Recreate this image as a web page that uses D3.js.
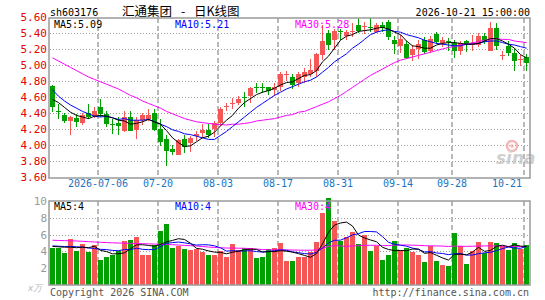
<!DOCTYPE html>
<html><head><meta charset="utf-8">
<script src="https://cdn.jsdelivr.net/npm/d3@7/dist/d3.min.js"></script>
<style>body{margin:0;background:#fff}svg{display:block}</style>
</head><body><svg id="c" width="545" height="300"></svg>
<script>
const dates = ["2026-06-24","2026-06-25","2026-06-26","2026-06-29","2026-06-30","2026-07-01","2026-07-02","2026-07-03",
"2026-07-06","2026-07-07","2026-07-08","2026-07-09","2026-07-10","2026-07-13","2026-07-14","2026-07-15","2026-07-16","2026-07-17",
"2026-07-20","2026-07-21","2026-07-22","2026-07-23","2026-07-24","2026-07-27","2026-07-28","2026-07-29","2026-07-30","2026-07-31",
"2026-08-03","2026-08-04","2026-08-05","2026-08-06","2026-08-07","2026-08-10","2026-08-11","2026-08-12","2026-08-13","2026-08-14",
"2026-08-17","2026-08-18","2026-08-19","2026-08-20","2026-08-21","2026-08-24","2026-08-25","2026-08-26","2026-08-27","2026-08-28",
"2026-08-31","2026-09-01","2026-09-02","2026-09-03","2026-09-04","2026-09-07","2026-09-08","2026-09-09","2026-09-10","2026-09-11",
"2026-09-14","2026-09-15","2026-09-16","2026-09-17","2026-09-18","2026-09-21","2026-09-22","2026-09-23","2026-09-24",
"2026-09-28","2026-09-29","2026-09-30","2026-10-08","2026-10-09","2026-10-12","2026-10-13","2026-10-14","2026-10-15","2026-10-16",
"2026-10-19","2026-10-20","2026-10-21"];
const open  = [4.74,4.43,4.38,4.30,4.34,4.28,4.40,4.36,4.47,4.39,4.26,4.28,4.18,4.35,4.19,4.31,4.32,4.40,4.20,4.07,3.95,3.87,4.07,4.02,4.11,4.15,4.19,4.20,4.27,4.48,4.52,4.53,4.60,4.61,4.73,4.72,4.72,4.69,4.72,4.88,4.85,4.77,4.85,4.89,4.93,5.13,5.40,5.31,5.42,5.36,5.41,5.50,5.48,5.48,5.41,5.50,5.54,5.31,5.24,5.26,5.13,5.20,5.31,5.18,5.39,5.27,5.30,5.28,5.17,5.30,5.25,5.25,5.36,5.18,5.46,5.12,5.24,5.15,5.07,5.10];
const high  = [4.75,4.51,4.40,4.36,4.39,4.40,4.51,4.48,4.58,4.42,4.32,4.35,4.43,4.42,4.35,4.40,4.45,4.45,4.33,4.13,4.00,4.07,4.12,4.11,4.18,4.26,4.26,4.30,4.48,4.53,4.59,4.61,4.66,4.73,4.78,4.77,4.73,4.77,4.91,4.93,4.89,4.91,4.96,5.08,5.15,5.50,5.44,5.45,5.45,5.44,5.53,5.59,5.54,5.59,5.52,5.54,5.56,5.36,5.37,5.30,5.25,5.31,5.35,5.36,5.41,5.35,5.34,5.31,5.30,5.31,5.37,5.40,5.40,5.54,5.53,5.18,5.30,5.21,5.13,5.14];
const low   = [4.41,4.33,4.28,4.13,4.23,4.25,4.33,4.34,4.35,4.22,4.14,4.13,4.16,4.17,4.08,4.25,4.30,4.18,3.99,3.74,3.87,3.87,3.90,3.91,4.05,4.09,4.09,4.10,4.24,4.42,4.45,4.50,4.47,4.52,4.65,4.65,4.62,4.61,4.68,4.80,4.70,4.73,4.77,4.85,4.85,5.06,5.19,5.19,5.31,5.31,5.35,5.40,5.39,5.41,5.40,5.41,5.31,5.14,5.15,5.07,5.05,5.08,5.14,5.15,5.26,5.22,5.18,5.09,5.12,5.16,5.18,5.23,5.26,5.17,5.19,5.06,5.11,4.93,4.99,4.93];
const close = [4.48,4.42,4.30,4.35,4.29,4.37,4.35,4.43,4.39,4.26,4.25,4.24,4.35,4.18,4.31,4.38,4.38,4.19,4.04,3.93,3.91,4.06,3.98,4.09,4.14,4.19,4.13,4.27,4.45,4.49,4.53,4.58,4.59,4.71,4.72,4.71,4.68,4.73,4.89,4.89,4.75,4.89,4.91,4.94,5.14,5.30,5.25,5.43,5.41,5.41,5.42,5.43,5.49,5.47,5.50,5.46,5.35,5.26,5.32,5.09,5.20,5.26,5.16,5.33,5.29,5.31,5.29,5.17,5.28,5.26,5.28,5.36,5.30,5.46,5.24,5.13,5.15,5.05,5.08,5.02];
const ma5  = [4.57,4.53,4.47,4.41,4.37,4.35,4.33,4.36,4.37,4.36,4.34,4.31,4.30,4.26,4.27,4.29,4.32,4.29,4.26,4.18,4.09,4.03,3.98,3.99,4.04,4.09,4.11,4.16,4.24,4.31,4.37,4.46,4.53,4.58,4.63,4.66,4.68,4.71,4.75,4.78,4.79,4.83,4.87,4.88,4.93,5.04,5.11,5.21,5.31,5.36,5.38,5.42,5.43,5.44,5.46,5.47,5.45,5.41,5.38,5.30,5.24,5.23,5.21,5.21,5.25,5.27,5.28,5.28,5.27,5.26,5.26,5.27,5.30,5.33,5.33,5.30,5.26,5.21,5.13,5.09];
const ma10 = [4.69,4.61,4.55,4.50,4.46,4.42,4.39,4.36,4.35,4.36,4.34,4.32,4.33,4.31,4.31,4.31,4.32,4.29,4.26,4.23,4.19,4.17,4.14,4.13,4.11,4.09,4.07,4.07,4.12,4.17,4.23,4.29,4.35,4.41,4.47,4.52,4.57,4.62,4.66,4.70,4.73,4.76,4.79,4.81,4.85,4.91,4.97,5.04,5.09,5.14,5.21,5.26,5.32,5.38,5.41,5.43,5.44,5.42,5.41,5.38,5.36,5.34,5.31,5.29,5.27,5.26,5.25,5.24,5.24,5.26,5.26,5.27,5.29,5.30,5.30,5.28,5.26,5.25,5.23,5.21];
const ma30 = [5.09,5.05,5.01,4.97,4.93,4.89,4.85,4.82,4.79,4.76,4.73,4.70,4.66,4.62,4.59,4.55,4.52,4.49,4.46,4.42,4.39,4.36,4.33,4.31,4.29,4.28,4.27,4.26,4.255,4.25,4.26,4.26,4.27,4.28,4.30,4.31,4.32,4.33,4.35,4.37,4.38,4.41,4.42,4.45,4.48,4.51,4.54,4.58,4.62,4.67,4.72,4.77,4.82,4.87,4.91,4.95,4.99,5.03,5.06,5.08,5.10,5.12,5.14,5.16,5.18,5.20,5.22,5.23,5.25,5.26,5.28,5.29,5.31,5.32,5.33,5.32,5.32,5.30,5.29,5.28];
const volume = [4.44,4.40,3.81,5.48,4.05,4.88,3.97,4.72,2.98,3.33,3.53,4.05,5.24,5.36,5.71,3.61,3.61,4.76,6.43,7.30,4.44,4.60,4.33,4.17,4.25,3.97,3.57,3.57,4.09,3.37,4.92,4.17,4.44,4.44,3.25,3.37,4.33,4.44,5.04,2.90,2.90,3.37,3.37,3.97,5.16,8.60,10.30,7.62,5.24,5.67,6.27,4.88,5.95,4.05,4.60,2.98,3.57,5.24,4.17,4.44,3.97,3.53,2.74,4.60,2.86,2.38,2.26,6.19,4.60,2.50,4.05,5.12,3.77,5.12,5.00,4.68,4.20,5.00,4.25,4.76];
const vma5 = [4.60,4.55,4.50,4.50,4.44,4.52,4.44,4.62,4.12,3.98,3.71,3.72,3.83,4.30,4.78,4.79,4.71,4.61,4.82,5.14,5.31,5.51,5.42,4.97,4.36,4.26,4.06,3.91,3.89,3.71,3.90,4.02,4.20,4.27,4.24,3.93,3.97,3.97,4.09,4.02,3.92,3.73,3.52,3.30,3.75,4.89,6.28,7.13,7.38,7.49,7.02,5.94,5.60,5.36,5.15,4.49,4.23,4.09,4.11,4.08,4.28,4.27,3.77,3.86,3.54,3.22,2.97,3.66,3.66,3.59,3.92,4.49,4.01,4.11,4.61,4.74,4.55,4.80,4.63,4.58];
const vma10 = [4.65,4.62,4.58,4.60,4.55,4.50,4.40,4.35,4.25,4.21,4.12,4.08,4.22,4.21,4.38,4.25,4.21,4.22,4.56,4.96,5.05,5.11,5.02,4.90,4.75,4.79,4.78,4.66,4.43,4.04,4.08,4.04,4.05,4.08,3.98,3.92,4.00,4.08,4.18,4.13,3.93,3.85,3.74,3.69,3.89,4.41,5.01,5.32,5.34,5.62,5.96,6.11,6.37,6.37,6.32,5.76,5.08,4.85,4.74,4.62,4.39,4.25,3.93,3.98,3.81,3.75,3.62,3.71,3.76,3.56,3.57,3.73,3.83,3.89,4.10,4.33,4.52,4.40,4.37,4.60];
const vma30 = [5.33,5.30,5.28,5.26,5.24,5.20,5.16,5.12,5.08,5.05,5.02,5.00,4.98,4.96,4.94,4.92,4.90,4.87,4.84,4.82,4.80,4.76,4.72,4.68,4.64,4.58,4.52,4.47,4.43,4.40,4.40,4.38,4.37,4.33,4.28,4.22,4.20,4.18,4.20,4.18,4.16,4.15,4.14,4.14,4.18,4.37,4.59,4.69,4.65,4.60,4.66,4.67,4.72,4.72,4.73,4.69,4.69,4.75,4.75,4.77,4.74,4.72,4.68,4.66,4.65,4.63,4.59,4.63,4.62,4.60,4.62,4.64,4.65,4.66,4.65,4.62,4.60,4.58,4.57,4.56];
const priceTicks = [5.60,5.40,5.20,5.00,4.80,4.60,4.40,4.20,4.00,3.80,3.60];
const volTicks = [10,8,6,4,2];
const tickDates = ["2026-07-06","2026-07-20","2026-08-03","2026-08-17","2026-08-31","2026-09-14","2026-09-28","2026-10-21"];
const tickLabels = ["2026-07-06","07-20","08-03","08-17","08-31","09-14","09-28","10-21"];
const priceLabels = ["MA5:5.09","MA10:5.21","MA30:5.28"];
const volLabels = ["MA5:4","MA10:4","MA30:4"];

const RED = "#f55656", GREEN = "#00a000";
const MONO = "'DejaVu Sans Mono', monospace";
const CJK = "'Noto Sans CJK SC', sans-serif";
const svg = d3.select("#c");

const x = d3.scaleBand().domain(dates).range([50, 530]).paddingInner(0).paddingOuter(0);
const y = d3.scaleLinear().domain([3.6, 5.6]).range([177, 17]);
const yv = d3.scaleLinear().domain([0, 10]).range([285, 201]);
const cx = d => x(d) + 2.5;

// titles
svg.append("text").attr("x", 50).attr("y", 15.5).attr("font-family", MONO).attr("font-size", 10).attr("fill", "#000").text("sh603176");
svg.append("text").attr("x", 122).attr("y", 16).attr("font-family", CJK).attr("font-size", 12.5).attr("fill", "#000").text("汇通集团");
svg.append("text").attr("x", 181).attr("y", 16).attr("font-family", CJK).attr("font-size", 12.5).attr("fill", "#000").text("-");
svg.append("text").attr("x", 194).attr("y", 16).attr("font-family", CJK).attr("font-size", 12.5).attr("fill", "#000").text("日K线图");
svg.append("text").attr("x", 530).attr("y", 15.5).attr("text-anchor", "end").attr("font-family", MONO).attr("font-size", 10).attr("fill", "#000").text("2026-10-21 15:00:00");

// grids
const grid = svg.append("g");
priceTicks.filter(t => t > 3.6 && t < 5.6).forEach(t => {
  grid.append("line").attr("x1", 50).attr("x2", 529).attr("y1", Math.round(y(t)) + 0.5).attr("y2", Math.round(y(t)) + 0.5)
    .attr("stroke", "#a0a0a0").attr("stroke-dasharray", "1,2");
});
volTicks.filter(t => t < 10).forEach(t => {
  grid.append("line").attr("x1", 50).attr("x2", 529).attr("y1", Math.round(yv(t)) + 0.5).attr("y2", Math.round(yv(t)) + 0.5)
    .attr("stroke", "#a0a0a0").attr("stroke-dasharray", "1,2");
});
tickDates.forEach(d => {
  [[18, 177], [201, 285]].forEach(([a, b]) => {
    grid.append("line").attr("x1", x(d)).attr("x2", x(d)).attr("y1", a).attr("y2", b)
      .attr("stroke", "#b8b8b8").attr("stroke-width", 2).attr("stroke-dasharray", "5,3");
  });
});

// watermark
const wm = svg.append("g").attr("opacity", 0.75);
wm.append("circle").attr("cx", 512).attr("cy", 146).attr("r", 5).attr("fill", "none").attr("stroke", "#f2a0a0").attr("stroke-width", 2.5);
wm.append("circle").attr("cx", 512).attr("cy", 146).attr("r", 1.8).attr("fill", "#f2a0a0");
wm.append("text").attr("x", 496).attr("y", 164).attr("font-family", "Verdana, 'DejaVu Sans', sans-serif").attr("font-style", "italic").attr("font-weight", "bold")
  .attr("font-size", 17).attr("fill", "#c0c0c0").text("sina");

// candles
const cg = svg.append("g").attr("shape-rendering", "crispEdges");
dates.forEach((d, i) => {
  const col = close[i] >= open[i] ? RED : GREEN;
  cg.append("line").attr("x1", cx(d)).attr("x2", cx(d)).attr("y1", y(high[i])).attr("y2", y(low[i])).attr("stroke", col);
  const top = y(Math.max(open[i], close[i])), bot = y(Math.min(open[i], close[i]));
  cg.append("rect").attr("x", x(d)).attr("width", 5).attr("y", top).attr("height", Math.max(1, bot - top)).attr("fill", col);
});

// volume bars
const vg = svg.append("g").attr("shape-rendering", "crispEdges");
dates.forEach((d, i) => {
  const col = close[i] >= open[i] ? RED : GREEN;
  vg.append("rect").attr("x", x(d)).attr("width", 5).attr("y", yv(volume[i])).attr("height", yv(0) - yv(volume[i])).attr("fill", col);
});

// MA lines
function maLine(arr, sc, color) {
  const line = d3.line().x((v, i) => cx(dates[i])).y(v => sc(v));
  svg.append("path").attr("d", line(arr)).attr("fill", "none").attr("stroke", color).attr("stroke-width", 1);
}
maLine(ma30, y, "#ff00ff"); maLine(ma10, y, "#0000ff"); maLine(ma5, y, "#000000");
maLine(vma30, yv, "#ff00ff"); maLine(vma10, yv, "#0000ff"); maLine(vma5, yv, "#000000");

// frames
[[18, 178], [201, 285]].forEach(([a, b]) => {
  svg.append("rect").attr("x", 49).attr("y", a).attr("width", 481).attr("height", b - a)
    .attr("fill", "none").attr("stroke", "#9a9a9a").attr("stroke-width", 1.5);
});

// axes
const ay = svg.append("g").attr("transform", "translate(47,0)")
  .call(d3.axisLeft(y).tickValues(priceTicks).tickFormat(d3.format(".2f")).tickSize(0).tickPadding(0));
ay.select(".domain").remove();
ay.selectAll("text").attr("font-family", MONO).attr("font-size", 11).attr("fill", "#e60000");

const av = svg.append("g").attr("transform", "translate(47,0)")
  .call(d3.axisLeft(yv).tickValues(volTicks).tickFormat(d3.format("d")).tickSize(0).tickPadding(0));
av.select(".domain").remove();
av.selectAll("text").attr("font-family", MONO).attr("font-size", 11).attr("fill", "#999");

const ax = svg.append("g").attr("transform", "translate(-3,179)")
  .call(d3.axisBottom(x).tickValues(tickDates).tickFormat(d => tickLabels[tickDates.indexOf(d)]).tickSize(0).tickPadding(1));
ax.select(".domain").remove();
ax.selectAll("text").attr("font-family", MONO).attr("font-size", 10).attr("fill", "#1a74c4");
// keep the last label inside the frame, as the original does
const lastTick = tickDates[tickDates.length - 1];
ax.selectAll(".tick").filter(d => d === lastTick).select("text")
  .attr("text-anchor", "end").attr("x", 522 - x(lastTick));

// MA labels
const pcols = ["#000", "#0000ff", "#ff00ff"], lx = [54, 175, 295];
priceLabels.forEach((t, i) => svg.append("text").attr("x", lx[i]).attr("y", 28).attr("font-family", MONO).attr("font-size", 10).attr("fill", pcols[i]).text(t));
volLabels.forEach((t, i) => svg.append("text").attr("x", lx[i]).attr("y", 210).attr("font-family", MONO).attr("font-size", 10).attr("fill", pcols[i]).text(t));

svg.append("text").attr("x", 28).attr("y", 291).attr("font-family", "'DejaVu Sans', sans-serif").attr("font-style", "italic").attr("font-size", 9).attr("fill", "#bbb").text("x万");
svg.append("text").attr("x", 50).attr("y", 296).attr("font-family", MONO).attr("font-size", 10).attr("fill", "#555").text("Copyright 2026 SINA.COM");
svg.append("text").attr("x", 529).attr("y", 296).attr("text-anchor", "end").attr("font-family", MONO).attr("font-size", 10).attr("fill", "#555").text("http://finance.sina.com.cn");
</script></body></html>
